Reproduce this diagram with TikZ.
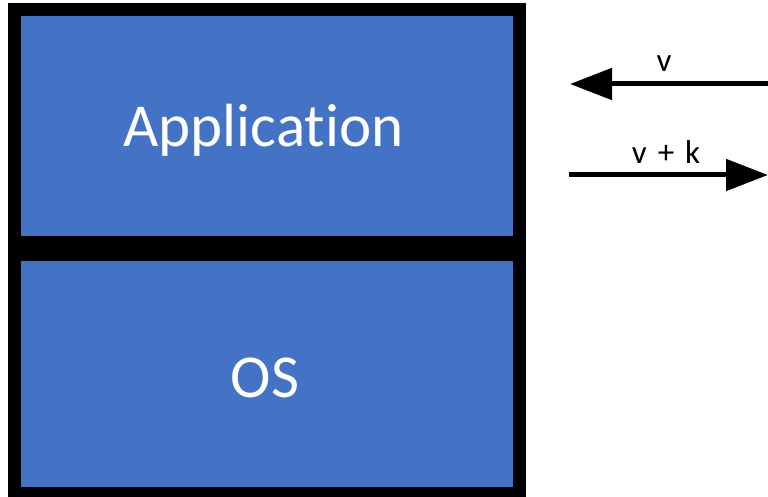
\documentclass[tikz,border=0pt]{standalone}
\usepackage{fontspec}
\setmainfont[Ligatures=NoCommon]{Carlito}
\usetikzlibrary{arrows.meta}
\definecolor{layerblue}{HTML}{4472C4}
\newcommand\widewordspace{\spaceskip=0.33em\relax}
\tikzset{
  layer/.style={draw=black, line width=13pt, fill=layerblue, text=white,
    font=\fontsize{61}{64}\selectfont, inner sep=0pt},
  flow/.style={line width=5pt, -{Triangle[length=42pt,width=31pt]}},
  flowlabel/.style={font=\fontsize{33}{36}\selectfont,
    execute at begin node=\widewordspace,
    inner sep=0pt, anchor=base}
}
\begin{document}
\begin{tikzpicture}[x=1pt,y=-1pt]
  \useasboundingbox (0,0) rectangle (768,497);
  % stacked layers
  \node[layer, minimum width=505pt, minimum height=232.5pt,
        text height=44pt, text depth=1.5pt] (app) at (267,125.75)
    {\hspace*{-7pt}Application};
  \node[layer, minimum width=505pt, minimum height=239.5pt,
        text height=47pt, text depth=0.5pt] (os) at (267,373.75)
    {\hspace*{-4pt}OS};
  % value exchange
  \coordinate (inR) at (768,84);
  \coordinate (inL) at (570,84);
  \coordinate (outL) at (569,175);
  \coordinate (outR) at (768,175);
  \draw[flow] (inR) -- (inL);
  \draw[flow] (outL) -- (outR);
  \node[flowlabel] (lv) at (664,72) {v};
  \node[flowlabel] (lvk) at (666,164) {v + k};
\end{tikzpicture}
\end{document}
